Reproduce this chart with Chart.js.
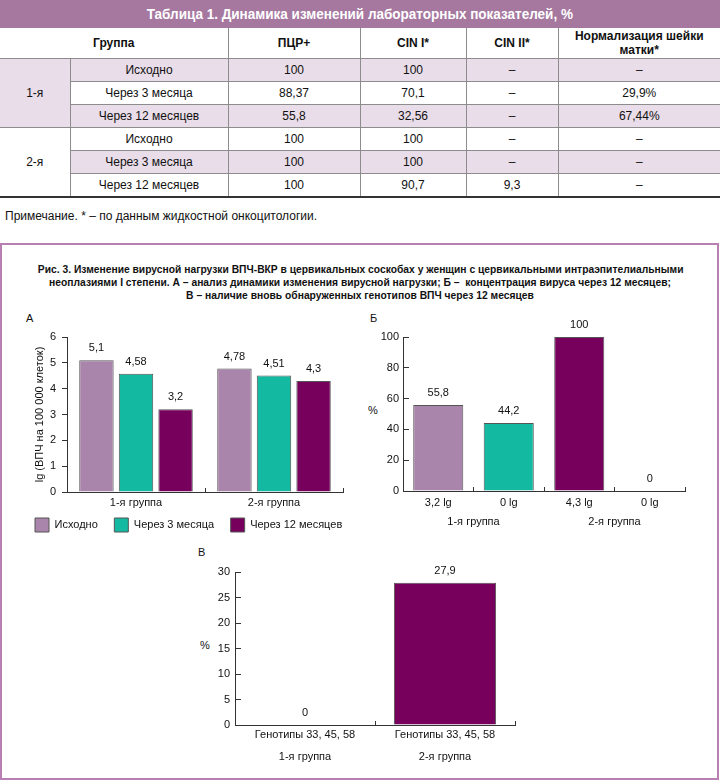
<!DOCTYPE html>
<html>
<head>
<meta charset="utf-8">
<script src="https://cdn.jsdelivr.net/npm/chart.js@4.4.0/dist/chart.umd.min.js"></script>
<style>
body { margin: 0; width: 720px; height: 783px; position: relative; background: #fff; overflow: hidden;
       font-family: "Liberation Sans", Arial, sans-serif; color: #111; }
.tbl-title { position: absolute; left: 0; top: 0; width: 720px; height: 28px; background: #a6789f; color: #fff;
             font: bold 15px "Liberation Sans", sans-serif; text-align: center; line-height: 28px; }
.tbl-title span { display: inline-block; transform: scaleX(0.9); white-space: nowrap; }
table { position: absolute; left: 0; top: 28px; width: 720px; border-collapse: collapse; table-layout: fixed; font-size: 12px; }
td, th { border: 1px solid #8c8c8c; text-align: center; padding: 0; }
th { height: 30px; font-weight: bold; line-height: 14px; border-top: none; }
td { height: 22px; }
tr > :first-child { border-left: none; }
tr > :last-child { border-right: none; }
tr.last td, td.g2 { border-bottom: 2px solid #333; }
.lav { background: #e9dde9; }
.note { position: absolute; left: 5px; top: 209px; font-size: 12px; }
.frame { position: absolute; left: 0; top: 243px; width: 719px; height: 537px; box-sizing: border-box; border: 2px solid #b77fb2; }
.caption { position: absolute; left: 0; top: 263px; width: 720px; text-align: center;
           font: bold 11.5px/13px "Liberation Sans", sans-serif; }
.caption div { white-space: nowrap; transform: scaleX(0.895); }
.lbl { position: absolute; font-size: 11px; line-height: 13px; }
canvas { position: absolute; }
</style>
</head>
<body>
<div class="tbl-title"><span>Таблица 1. Динамика изменений лабораторных показателей, %</span></div>
<table>
  <colgroup><col style="width:70px"><col style="width:158px"><col style="width:132px"><col style="width:106px"><col style="width:92px"><col style="width:162px"></colgroup>
  <tr><th colspan="2">Группа</th><th>ПЦР+</th><th>CIN I*</th><th>CIN II*</th><th>Нормализация шейки<br>матки*</th></tr>
  <tr class="lav"><td rowspan="3" class="lav">1-я</td><td>Исходно</td><td>100</td><td>100</td><td>–</td><td>–</td></tr>
  <tr><td>Через 3 месяца</td><td>88,37</td><td>70,1</td><td>–</td><td>29,9%</td></tr>
  <tr class="lav"><td>Через 12 месяцев</td><td>55,8</td><td>32,56</td><td>–</td><td>67,44%</td></tr>
  <tr><td rowspan="3" class="g2">2-я</td><td>Исходно</td><td>100</td><td>100</td><td>–</td><td>–</td></tr>
  <tr class="lav"><td>Через 3 месяца</td><td>100</td><td>100</td><td>–</td><td>–</td></tr>
  <tr class="last"><td>Через 12 месяцев</td><td>100</td><td>90,7</td><td>9,3</td><td>–</td></tr>
</table>
<div class="note">Примечание. * – по данным жидкостной онкоцитологии.</div>

<div class="frame"></div>
<div class="caption">
  <div>Рис. 3. Изменение вирусной нагрузки ВПЧ-ВКР в цервикальных соскобах у женщин с цервикальными интраэпителиальными</div>
  <div>неоплазиями I степени. А – анализ динамики изменения вирусной нагрузки; Б –&nbsp; концентрация вируса через 12 месяцев;</div>
  <div>В – наличие вновь обнаруженных генотипов ВПЧ через 12 месяцев</div>
</div>
<div class="lbl" style="left:26px;top:312px">А</div>
<div class="lbl" style="left:370px;top:312px">Б</div>
<div class="lbl" style="left:198px;top:546px">В</div>
<div class="lbl" style="left:368px;top:404px">%</div>
<div class="lbl" style="left:200px;top:639px">%</div>

<canvas id="chartA" width="340" height="220" style="left:27px;top:322px"></canvas>
<canvas id="chartB" width="340" height="230" style="left:360px;top:310px"></canvas>
<canvas id="chartC" width="320" height="223" style="left:210px;top:545px"></canvas>

<script>
// А – вирусная нагрузка, lg
const groupLabels = ['1-я группа', '2-я группа'];
const seriesNames = ['Исходно', 'Через 3 месяца', 'Через 12 месяцев'];
const loadBaseline = [5.1, 4.78];
const load3Months = [4.58, 4.51];
const load12Months = [3.2, 4.3];

// Б – концентрация вируса через 12 месяцев, %
const concLabels = ['3,2 lg', '0 lg', '4,3 lg', '0 lg'];
const concValues = [55.8, 44.2, 100, 0];

// В – новые генотипы через 12 месяцев, %
const genoLabels = ['Генотипы 33, 45, 58', 'Генотипы 33, 45, 58'];
const genoValues = [0, 27.9];

const LAV = '#a985ac';
const TEAL = '#14b9a2';
const PURPLE = '#76005c';
const EDGE = '#555';
const AXIS = '#333';
const FONT = '"Liberation Sans", Arial, sans-serif';

Chart.defaults.font.family = FONT;
Chart.defaults.font.size = 11;
Chart.defaults.color = '#111';

const valueLabels = {
    id: 'valueLabels',
    afterDatasetsDraw(chart) {
        const ctx = chart.ctx;
        ctx.save();
        ctx.font = '11px ' + FONT;
        ctx.fillStyle = '#111';
        ctx.textAlign = 'center';
        ctx.textBaseline = 'middle';
        chart.data.datasets.forEach((ds, i) => {
            chart.getDatasetMeta(i).data.forEach((bar, j) => {
                ctx.fillText(String(ds.data[j]).replace('.', ','), bar.x, bar.y - 12);
            });
        });
        ctx.restore();
    }
};

// negative tick length = tick marks pointing into the plot
function xAxis(height, padding) {
    return {
        grid: { drawOnChartArea: false, tickLength: -4, color: AXIS },
        border: { color: AXIS },
        ticks: { padding: padding },
        afterFit: s => { s.height = height; }
    };
}

function groupAxis(padding, height) {
    return {
        type: 'category',
        labels: groupLabels,
        position: 'bottom',
        weight: 1,
        grid: { display: false, drawTicks: false },
        border: { display: false },
        ticks: { padding: padding },
        afterFit: s => { s.height = height; }
    };
}

function yAxis(max, step, width, tickLength, padding) {
    return {
        min: 0,
        max: max,
        ticks: { stepSize: step, padding: padding },
        grid: { drawOnChartArea: false, tickLength: tickLength, color: AXIS },
        border: { color: AXIS },
        afterFit: s => { s.width = width; }
    };
}

const yA = yAxis(6, 1, 40, 5, 6);
yA.title = { display: true, text: 'lg (ВПЧ на 100 000 клеток)', padding: { top: 6, bottom: 0 }, font: { size: 11 } };

new Chart(document.getElementById('chartA'), {
    type: 'bar',
    data: {
        labels: groupLabels,
        datasets: [
            { label: seriesNames[0], data: loadBaseline, backgroundColor: LAV, borderColor: EDGE, borderWidth: 1 },
            { label: seriesNames[1], data: load3Months, backgroundColor: TEAL, borderColor: EDGE, borderWidth: 1 },
            { label: seriesNames[2], data: load12Months, backgroundColor: PURPLE, borderColor: EDGE, borderWidth: 1 }
        ]
    },
    options: {
        responsive: false,
        animation: false,
        layout: { padding: { top: 15, right: 0, left: 0, bottom: 0 } },
        datasets: { bar: { categoryPercentage: 0.86, barPercentage: 0.87 } },
        plugins: {
            legend: {
                position: 'bottom',
                align: 'start',
                labels: {
                    boxWidth: 14,
                    boxHeight: 14,
                    padding: 8,
                    font: { size: 11 },
                    generateLabels: chart => Chart.defaults.plugins.legend.labels.generateLabels(chart)
                        .map(item => Object.assign(item, { text: item.text + ' \u2002' }))
                }
            },
            tooltip: { enabled: false }
        },
        scales: {
            x: xAxis(18, 8.4),
            y: yA,
            // spacer that keeps the plot narrower than the legend row
            y2: {
                position: 'right',
                grid: { display: false, drawTicks: false },
                border: { display: false },
                ticks: { display: false },
                afterFit: s => { s.width = 24; }
            }
        }
    },
    plugins: [valueLabels]
});

new Chart(document.getElementById('chartB'), {
    type: 'bar',
    data: {
        labels: concLabels,
        datasets: [{
            data: concValues,
            backgroundColor: [LAV, TEAL, PURPLE, PURPLE],
            borderColor: EDGE,
            borderWidth: 1
        }]
    },
    options: {
        responsive: false,
        animation: false,
        layout: { padding: { top: 27, right: 15, left: 0, bottom: 0 } },
        datasets: { bar: { categoryPercentage: 1, barPercentage: 0.71 } },
        plugins: { legend: { display: false }, tooltip: { enabled: false } },
        scales: { x: xAxis(19, 9.4), x2: groupAxis(5.4, 30), y: yAxis(100, 20, 43, -6, 10) }
    },
    plugins: [valueLabels]
});

new Chart(document.getElementById('chartC'), {
    type: 'bar',
    data: {
        labels: genoLabels,
        datasets: [{
            data: genoValues,
            backgroundColor: PURPLE,
            borderColor: EDGE,
            borderWidth: 1
        }]
    },
    options: {
        responsive: false,
        animation: false,
        layout: { padding: { top: 27, right: 15, left: 0, bottom: 0 } },
        datasets: { bar: { categoryPercentage: 1, barPercentage: 0.73 } },
        plugins: { legend: { display: false }, tooltip: { enabled: false } },
        scales: { x: xAxis(18, 7.4), x2: groupAxis(7.4, 25), y: yAxis(30, 5, 25, -6, 11) }
    },
    plugins: [valueLabels]
});
</script>
</body>
</html>
